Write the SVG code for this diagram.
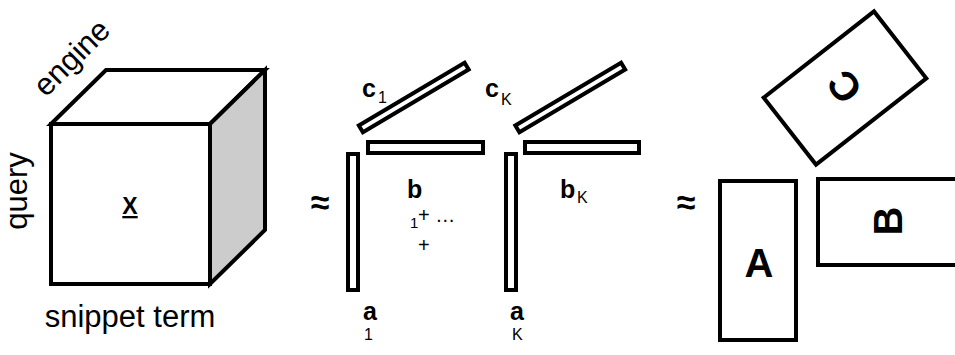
<svg xmlns="http://www.w3.org/2000/svg" width="955" height="355" viewBox="0 0 955 355">
<style>
.t{font-family:"Liberation Sans",Arial,sans-serif;fill:#000}
.lbl{font-size:31px}
.bv{font-size:25px;font-weight:bold}
.sub{font-size:16px}
.big{font-size:40px;font-weight:bold}
.ap{font-size:34px;font-weight:bold}
.bar{fill:#fff;stroke:#000;stroke-width:4}
.box{fill:#fff;stroke:#000;stroke-width:4}
</style>
<rect width="955" height="355" fill="#fff"/>
<g id="cube">
  <polygon class="box" points="51,124 106,70 265,70 210,124"/>
  <polygon class="box" points="210,124 265,70 265,230 210,284" style="fill:#cccccc"/>
  <rect class="box" x="51" y="124" width="159" height="160"/>
  <text class="t" x="130" y="214" text-anchor="middle" style="font-size:23px;font-weight:bold;text-decoration:underline">X</text>
  <text class="t lbl" transform="translate(79 65) rotate(-45)" text-anchor="middle">engine</text>
  <text class="t lbl" transform="translate(27 191) rotate(-90)" text-anchor="middle">query</text>
  <text class="t lbl" x="130" y="327" text-anchor="middle">snippet term</text>
</g>
<g id="approx1">
  <text class="t ap" x="320" y="214" text-anchor="middle">≈</text>
</g>
<g id="rank1">
  <rect class="bar" x="348" y="154" width="10" height="136"/>
  <rect class="bar" x="368" y="142" width="115" height="11"/>
  <rect class="bar" transform="translate(413.75 97.5) rotate(-30.7)" x="-61.5" y="-4" width="123" height="8"/>
  <text class="t bv" x="362" y="97">c</text>
  <text class="t sub" x="378" y="103">1</text>
  <text class="t bv" x="407" y="198">b</text>
  <text class="t" x="410" y="228" style="font-size:15px">1</text>
  <text class="t" x="418" y="222" style="font-size:20px">+ …</text>
  <text class="t" x="418" y="252" style="font-size:20px">+</text>
  <text class="t bv" x="363" y="320">a</text>
  <text class="t sub" x="364" y="340">1</text>
</g>
<g id="rankK">
  <rect class="bar" x="506" y="154" width="10" height="136"/>
  <rect class="bar" x="525" y="142" width="114" height="11"/>
  <rect class="bar" transform="translate(570.25 97.5) rotate(-30.7)" x="-61.5" y="-4" width="123" height="8"/>
  <text class="t bv" x="485" y="97">c</text>
  <text class="t sub" x="501" y="105">K</text>
  <text class="t bv" x="560" y="198">b</text>
  <text class="t sub" x="577" y="203">K</text>
  <text class="t bv" x="510" y="320">a</text>
  <text class="t sub" x="512" y="340">K</text>
</g>
<g id="approx2">
  <text class="t ap" x="686" y="214" text-anchor="middle">≈</text>
</g>
<g id="A">
  <rect class="box" x="720" y="181" width="76" height="159"/>
  <text class="t big" x="759" y="277" text-anchor="middle">A</text>
</g>
<g id="B">
  <rect class="box" x="818" y="179" width="150" height="86"/>
  <text class="t big" transform="translate(888 221) rotate(-90)" y="14.3" text-anchor="middle">B</text>
</g>
<g id="C">
  <rect class="box" transform="translate(845 88) rotate(-38)" x="-70" y="-42.5" width="140" height="85"/>
  <text class="t big" transform="translate(844 87) rotate(-128)" y="14.3" text-anchor="middle">C</text>
</g>
<g id="connectors"></g>
</svg>
